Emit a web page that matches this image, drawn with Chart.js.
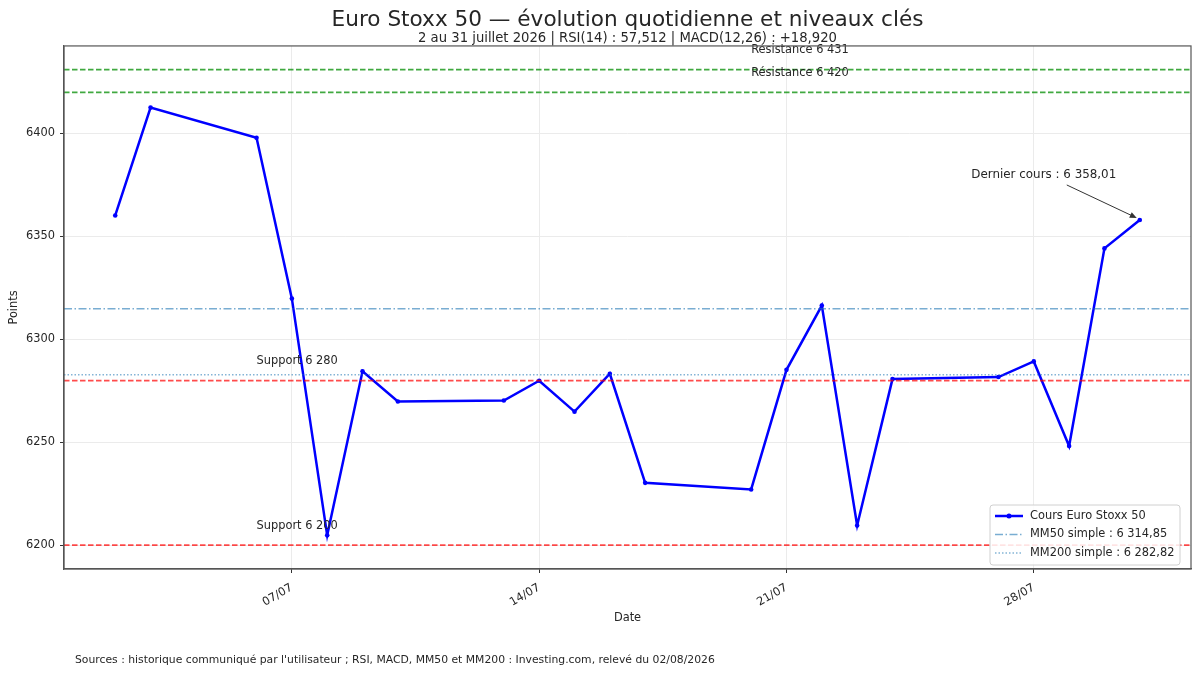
<!DOCTYPE html>
<html lang="fr">
<head>
<meta charset="utf-8">
<title>Euro Stoxx 50 — évolution quotidienne et niveaux clés</title>
<script src="https://cdn.jsdelivr.net/npm/chart.js@4.4.1/dist/chart.umd.min.js"></script>
<style>
  html, body { margin: 0; padding: 0; background: #fff; }
  #wrap { width: 1200px; height: 675px; }
</style>
</head>
<body>
<div id="wrap"><canvas id="chart" width="1200" height="675"></canvas></div>
<script>
"use strict";

/*--------------------------------------
    data (juillet 2026)
--------------------------------------*/

var days = [2, 3, 6, 7, 8, 9, 10, 13, 14, 15, 16, 17, 20, 21, 22, 23, 24, 27, 28, 29, 30, 31];
var closes = [6360.2, 6412.6, 6397.9, 6319.8, 6204.8, 6284.5, 6269.8, 6270.3, 6279.9, 6264.9, 6283.3,
              6230.3, 6227.1, 6285.2, 6316.4, 6209.6, 6280.7, 6281.7, 6289.3, 6248.2, 6344.2, 6358.01];
var xTicks = [7, 14, 21, 28];
var yTicks = [6200, 6250, 6300, 6350, 6400];
var resistances = [6431, 6420];
var supports = [6280, 6200];
var mm50 = 6314.85;
var mm200 = 6282.82;

/*--------------------------------------
    settings
--------------------------------------*/

var FONT = "'DejaVu Sans', 'Liberation Sans', sans-serif";
var TEXT = '#262626';
var resistanceLabelDay = 20;
var supportLabelDay = 6;
var labelOffset = 8;

// matplotlib-like 5% margins
var allY = closes.concat(resistances, supports);
var yLo = Math.min.apply(null, allY), yHi = Math.max.apply(null, allY);
var xSpan = days[days.length - 1] - days[0];
var xMin = days[0] - 0.05 * xSpan;
var xMax = days[days.length - 1] + 0.05 * xSpan;
var yMin = yLo - 0.05 * (yHi - yLo);
var yMax = yHi + 0.05 * (yHi - yLo);

function fmt(v, dec) {
  var s = v.toFixed(dec).split('.');
  var int = s[0].replace(/\B(?=(\d{3})+(?!\d))/g, ' ');
  return s.length > 1 ? int + ',' + s[1] : int;
}
function pad2(n) { return (n < 10 ? '0' : '') + n; }

var refLines = [
  { value: mm50, color: 'rgba(31,119,180,0.6)', width: 1.4, dash: [8, 2.5, 1.5, 2.5] },
  { value: mm200, color: 'rgba(31,119,180,0.55)', width: 1.3, dash: [1.5, 2] }
];
resistances.forEach(function (r) {
  refLines.push({ value: r, color: 'rgba(0,140,0,0.75)', width: 1.7, dash: [5.5, 2.5],
    label: 'Résistance ' + fmt(r, 0), labelDay: resistanceLabelDay });
});
supports.forEach(function (s) {
  refLines.push({ value: s, color: 'rgba(255,0,0,0.7)', width: 1.7, dash: [5.5, 2.5],
    label: 'Support ' + fmt(s, 0), labelDay: supportLabelDay });
});

var legendItems = [
  { text: 'Cours Euro Stoxx 50', color: '#0000ff', width: 2.5, dash: [], marker: true },
  { text: 'MM50 simple : ' + fmt(mm50, 2), color: refLines[0].color, width: 1.4, dash: refLines[0].dash },
  { text: 'MM200 simple : ' + fmt(mm200, 2), color: refLines[1].color, width: 1.3, dash: refLines[1].dash }
];

/*--------------------------------------
    decor plugin
--------------------------------------*/

var decor = {
  id: 'decor',
  beforeDraw: function (chart) {
    var ctx = chart.ctx;
    ctx.save();
    ctx.fillStyle = '#fff';
    ctx.fillRect(0, 0, chart.width, chart.height);
    ctx.restore();
  },
  afterDatasetsDraw: function (chart) {
    var ctx = chart.ctx, ca = chart.chartArea;
    var xs = chart.scales.x, ys = chart.scales.y;

    // horizontal levels
    ctx.save();
    ctx.beginPath();
    ctx.rect(ca.left, ca.top, ca.right - ca.left, ca.bottom - ca.top);
    ctx.clip();
    refLines.forEach(function (l) {
      var y = ys.getPixelForValue(l.value);
      ctx.beginPath();
      ctx.setLineDash(l.dash);
      ctx.strokeStyle = l.color;
      ctx.lineWidth = l.width;
      ctx.moveTo(ca.left, y);
      ctx.lineTo(ca.right, y);
      ctx.stroke();
    });
    ctx.restore();

    // level labels
    ctx.save();
    ctx.font = '11.4px ' + FONT;
    ctx.fillStyle = TEXT;
    ctx.textAlign = 'left';
    ctx.textBaseline = 'alphabetic';
    refLines.forEach(function (l) {
      if (!l.label) return;
      ctx.fillText(l.label, xs.getPixelForValue(l.labelDay), ys.getPixelForValue(l.value + labelOffset));
    });

    // last price annotation
    var lx = xs.getPixelForValue(days[days.length - 1]);
    var ly = ys.getPixelForValue(closes[closes.length - 1]);
    ctx.font = '11.9px ' + FONT;
    ctx.textAlign = 'center';
    ctx.textBaseline = 'middle';
    ctx.fillText('Dernier cours : ' + fmt(closes[closes.length - 1], 2), lx - 96, ly - 45);
    var ax0 = lx - 73, ay0 = ly - 35, ax1 = lx - 3, ay1 = ly - 2;
    var ang = Math.atan2(ay1 - ay0, ax1 - ax0);
    ctx.strokeStyle = '#333';
    ctx.fillStyle = '#333';
    ctx.lineWidth = 1;
    ctx.setLineDash([]);
    ctx.beginPath();
    ctx.moveTo(ax0, ay0);
    ctx.lineTo(ax1 - 6 * Math.cos(ang), ay1 - 6 * Math.sin(ang));
    ctx.stroke();
    ctx.beginPath();
    ctx.moveTo(ax1, ay1);
    ctx.lineTo(ax1 - 7 * Math.cos(ang) + 3 * Math.sin(ang), ay1 - 7 * Math.sin(ang) - 3 * Math.cos(ang));
    ctx.lineTo(ax1 - 7 * Math.cos(ang) - 3 * Math.sin(ang), ay1 - 7 * Math.sin(ang) + 3 * Math.cos(ang));
    ctx.closePath();
    ctx.fill();
    ctx.restore();

    // frame
    ctx.save();
    ctx.strokeStyle = '#555';
    ctx.lineWidth = 1.2;
    ctx.strokeRect(ca.left, ca.top, ca.right - ca.left, ca.bottom - ca.top);
    ctx.restore();

    // legend
    var lg = { x: ca.right - 201, y: ca.bottom - 64, w: 190, h: 60 };
    ctx.save();
    ctx.fillStyle = 'rgba(255,255,255,0.85)';
    ctx.strokeStyle = '#d0d0d0';
    ctx.lineWidth = 1;
    ctx.beginPath();
    ctx.roundRect(lg.x, lg.y, lg.w, lg.h, 3);
    ctx.fill();
    ctx.stroke();
    ctx.font = '11.4px ' + FONT;
    ctx.textAlign = 'left';
    ctx.textBaseline = 'middle';
    legendItems.forEach(function (it, i) {
      var ry = lg.y + 11 + i * 18.5;
      ctx.beginPath();
      ctx.setLineDash(it.dash);
      ctx.strokeStyle = it.color;
      ctx.lineWidth = it.width;
      ctx.moveTo(lg.x + 5, ry);
      ctx.lineTo(lg.x + 33, ry);
      ctx.stroke();
      if (it.marker) {
        ctx.setLineDash([]);
        ctx.fillStyle = it.color;
        ctx.beginPath();
        ctx.arc(lg.x + 19, ry, 2.5, 0, Math.PI * 2);
        ctx.fill();
      }
      ctx.fillStyle = TEXT;
      ctx.fillText(it.text, lg.x + 40, ry);
    });
    ctx.restore();

    // sources
    ctx.save();
    ctx.font = '10.8px ' + FONT;
    ctx.fillStyle = TEXT;
    ctx.textAlign = 'left';
    ctx.textBaseline = 'middle';
    ctx.fillText("Sources : historique communiqué par l'utilisateur ; RSI, MACD, MM50 et MM200 : Investing.com, relevé du 02/08/2026", 75, chart.height - 15);
    ctx.restore();
  }
};

/*--------------------------------------
    chart
--------------------------------------*/

new Chart(document.getElementById('chart').getContext('2d'), {
  type: 'line',
  data: {
    datasets: [{
      label: 'Cours Euro Stoxx 50',
      data: days.map(function (d, i) { return { x: d, y: closes[i] }; }),
      borderColor: '#0000ff',
      backgroundColor: '#0000ff',
      borderWidth: 2.5,
      pointRadius: 2.3,
      pointBorderWidth: 0,
      tension: 0
    }]
  },
  options: {
    responsive: false,
    animation: false,
    layout: { padding: { left: 0, right: 9, top: 0, bottom: 46 } },
    plugins: {
      legend: { display: false },
      tooltip: { enabled: false },
      title: {
        display: true,
        fullSize: false,
        text: 'Euro Stoxx 50 — évolution quotidienne et niveaux clés',
        color: TEXT,
        font: { family: FONT, size: 21.6, weight: 'normal', lineHeight: 1.1 },
        padding: { top: 8.8, bottom: 0 }
      },
      subtitle: {
        display: true,
        fullSize: false,
        text: '2 au 31 juillet 2026 | RSI(14) : 57,512 | MACD(12,26) : +18,920',
        color: TEXT,
        font: { family: FONT, size: 13.2, weight: 'normal', lineHeight: 0.9 },
        padding: { top: 0, bottom: 1.5 }
      }
    },
    scales: {
      x: {
        type: 'linear',
        min: xMin,
        max: xMax,
        afterBuildTicks: function (s) { s.ticks = xTicks.map(function (v) { return { value: v }; }); },
        afterFit: function (s) { s.height = 60; },
        ticks: {
          callback: function (v) { return pad2(v) + '/07'; },
          minRotation: 30,
          maxRotation: 30,
          color: TEXT,
          font: { family: FONT, size: 11.4 },
          padding: 8
        },
        grid: { color: '#ebebeb', tickColor: '#333', tickLength: 4, lineWidth: 1 },
        border: { color: '#555', width: 1.2 },
        title: {
          display: true, text: 'Date', color: TEXT,
          font: { family: FONT, size: 11.4 },
          padding: { top: 0, bottom: 4 }
        }
      },
      y: {
        min: yMin,
        max: yMax,
        afterBuildTicks: function (s) { s.ticks = yTicks.map(function (v) { return { value: v }; }); },
        afterFit: function (s) { s.width = 64; },
        ticks: {
          callback: function (v) { return String(v); },
          color: TEXT,
          font: { family: FONT, size: 11.4 },
          padding: 5
        },
        grid: { color: '#ebebeb', tickColor: '#333', tickLength: 4, lineWidth: 1 },
        border: { color: '#555', width: 1.2 },
        title: {
          display: true, text: 'Points', color: TEXT,
          font: { family: FONT, size: 11.4 },
          padding: { top: 7, bottom: 0 }
        }
      }
    }
  },
  plugins: [decor]
});
</script>
</body>
</html>
